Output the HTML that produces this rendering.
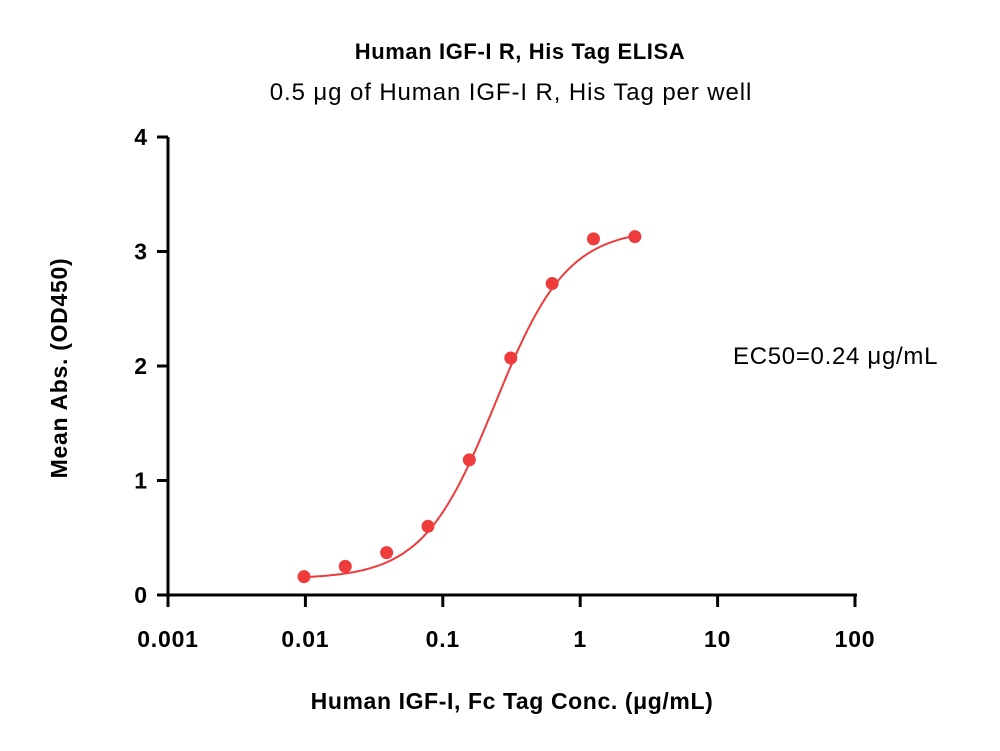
<!DOCTYPE html>
<html><head><meta charset="utf-8"><style>
html,body{margin:0;padding:0;background:#fff;}
svg{display:block;font-family:"Liberation Sans",sans-serif;}
</style></head><body>
<svg id="chart" width="1000" height="751" viewBox="0 0 1000 751">
<text x="520" y="59" text-anchor="middle" font-size="22" font-weight="bold" letter-spacing="0.6">Human IGF-I R, His Tag ELISA</text>
<text x="511" y="100" text-anchor="middle" font-size="24" letter-spacing="0.9">0.5 μg of Human IGF-I R, His Tag per well</text>
<text x="512" y="709" text-anchor="middle" font-size="23" font-weight="bold" letter-spacing="0.6">Human IGF-I, Fc Tag Conc. (μg/mL)</text>
<text transform="translate(67,368) rotate(-90)" text-anchor="middle" font-size="23" font-weight="bold" letter-spacing="0.7">Mean Abs. (OD450)</text>
<text x="733" y="364" font-size="24" letter-spacing="0.7">EC50=0.24 μg/mL</text>
<g id="axes"></g>
<g id="series"></g>
</svg>
<script>
const xTicks=[0.001,0.01,0.1,1,10,100];
const xTickLabels=["0.001","0.01","0.1","1","10","100"];
const yTicks=[0,1,2,3,4];
const concentrations=[0.00977,0.0195,0.039,0.078,0.156,0.3125,0.625,1.25,2.5];
const absorbance=[0.16,0.25,0.37,0.6,1.18,2.07,2.72,3.11,3.13];
const fitParams=[0.14,3.2,0.24,1.65]; // bottom, top, ec50, hill
const NS="http://www.w3.org/2000/svg";
const X0=168,X1=855,Y0=595,Y1=137;
const xs=v=>X0+(Math.log10(v)+3)/5*(X1-X0);
const ys=v=>Y0-v/4*(Y0-Y1);
function mk(t,a,p){const e=document.createElementNS(NS,t);for(const k in a)e.setAttribute(k,a[k]);p.appendChild(e);return e;}
const ax=document.getElementById('axes'),se=document.getElementById('series');
let l=mk('line',{x1:X0,y1:Y0,x2:X1+2,y2:Y0,stroke:'#000','stroke-width':3},ax);


l=mk('line',{x1:X0,y1:Y0+1.5,x2:X0,y2:Y1,stroke:'#000','stroke-width':3},ax);


xTicks.forEach((v,i)=>{
 const t=mk('line',{x1:xs(v),y1:Y0,x2:xs(v),y2:Y0+12,stroke:'#000','stroke-width':3},ax);
 
 
 const tx=mk('text',{x:xs(v),y:647,'text-anchor':'middle','font-size':23,'font-weight':'bold','letter-spacing':0.8},ax);
 tx.textContent=xTickLabels[i];
 
 
});
yTicks.forEach(v=>{
 const t=mk('line',{x1:X0-11,y1:ys(v),x2:X0,y2:ys(v),stroke:'#000','stroke-width':3},ax);
 
 
 const tx=mk('text',{x:X0-21,y:ys(v)+8,'text-anchor':'end','font-size':23,'font-weight':'bold'},ax);
 tx.textContent=v;
 
 
});
const [b,tp,ec,h]=fitParams;
let d='';
const lo=Math.log10(concentrations[0]),hi=Math.log10(concentrations[concentrations.length-1]);
for(let i=0;i<=200;i++){const lx=lo+(hi-lo)*i/200,x=Math.pow(10,lx);
 const y=b+(tp-b)/(1+Math.pow(ec/x,h));d+=(i?'L':'M')+xs(x).toFixed(1)+','+ys(y).toFixed(1);}
const p=mk('path',{d:d,fill:'none',stroke:'#ee3b3b','stroke-width':2},se);


concentrations.forEach((c,i)=>{
 const pt=mk('circle',{cx:xs(c),cy:ys(absorbance[i]),r:6.5,fill:'#ee3b3b'},se);
 
 
});
</script>
</body></html>
